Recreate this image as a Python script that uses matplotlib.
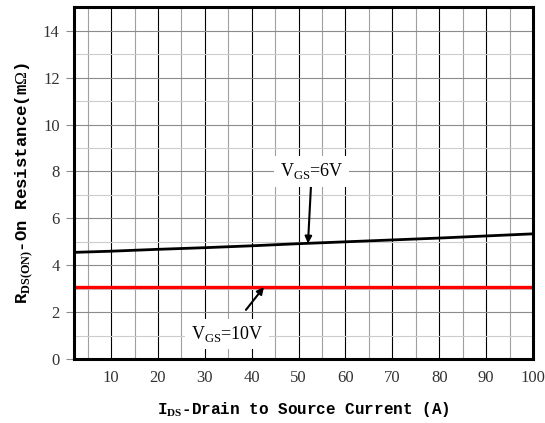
import matplotlib
matplotlib.use('Agg')
import matplotlib.pyplot as plt
import numpy as np

# data
ids = [2, 10, 20, 30, 40, 50, 60, 70, 80, 90, 100]
rds_6v = [4.55, 4.60, 4.68, 4.75, 4.83, 4.92, 5.00, 5.08, 5.16, 5.25, 5.34]
rds_10v = [3.07, 3.07, 3.07, 3.07, 3.07, 3.07, 3.07, 3.07, 3.07, 3.07, 3.07]
xticks = [10, 20, 30, 40, 50, 60, 70, 80, 90, 100]
yticks = [0, 2, 4, 6, 8, 10, 12, 14]

plt.rcParams['mathtext.fontset'] = 'custom'
plt.rcParams['mathtext.rm'] = 'Liberation Serif'
plt.rcParams['mathtext.bf'] = 'Liberation Serif:bold'

fig = plt.figure(figsize=(5.45, 4.23), dpi=100)
ax = fig.add_axes([0.135, 0.151, 0.843, 0.832])

# grid
for x in np.arange(5, 100, 5):
    ax.axvline(x, color='black' if x % 10 == 0 else '#a0a0a0', lw=0.8, zorder=1)
for y in range(1, 15):
    ax.axhline(y, color='#8c8c8c' if y % 2 == 0 else '#cccccc', lw=0.8, zorder=1)

ax.plot(ids, rds_6v, color='black', lw=2.0, zorder=3)
ax.plot(ids, rds_10v, color='#ff0000', lw=2.4, zorder=3)

ax.set_xlim(2, 100)
ax.set_ylim(0, 15)
ax.set_xticks(xticks)
ax.set_yticks(yticks)
ax.tick_params(axis='x', length=0, pad=8, labelsize=12, labelcolor='#333333')
ax.tick_params(axis='y', length=6, width=0.8, color='#8c8c8c', pad=4, labelsize=12, labelcolor='#333333')
for lab in ax.get_xticklabels() + ax.get_yticklabels():
    lab.set_fontfamily('Liberation Serif')
for s in ax.spines.values():
    s.set_linewidth(2.2)
    s.set_zorder(5)

ax.set_xlabel(r'I$_{\mathbf{DS}}$-Drain to Source Current (A)', fontfamily='Liberation Mono',
              fontweight='bold', fontsize=11.5, labelpad=10)
ax.set_ylabel(r'R$_{\mathbf{DS(ON)}}$-On Resistance(m$\Omega$)', fontfamily='Liberation Mono',
              fontweight='bold', fontsize=12.5, labelpad=6)

bbox = dict(boxstyle='square,pad=0.3', fc='white', ec='none')
ax.annotate(r'V$_{\mathrm{GS}}$=6V', xy=(52, 4.93), xytext=(52.8, 8.0),
            ha='center', va='center', fontsize=13, fontfamily='Liberation Serif', bbox=bbox,
            arrowprops=dict(arrowstyle='-|>', color='black', lw=1.5, mutation_scale=10,
                            shrinkA=0, shrinkB=0), zorder=6)
ax.annotate(r'V$_{\mathrm{GS}}$=10V', xy=(42.6, 3.07), xytext=(34.7, 1.07),
            ha='center', va='center', fontsize=13, fontfamily='Liberation Serif', bbox=bbox,
            arrowprops=dict(arrowstyle='-|>', color='black', lw=1.5, mutation_scale=10,
                            shrinkA=8, shrinkB=0), zorder=6)

plt.savefig('out.png', dpi=100)
